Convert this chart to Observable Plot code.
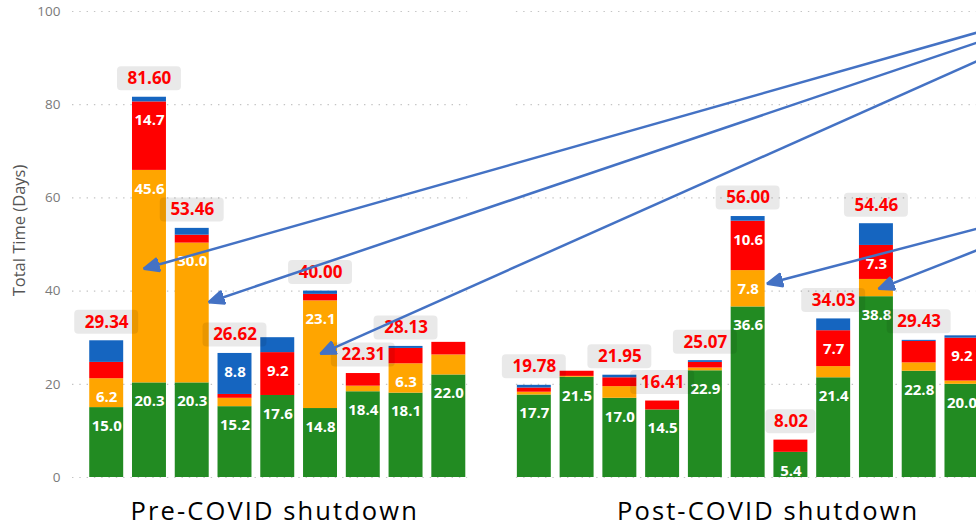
<!DOCTYPE html>
<html>
<head>
<meta charset="utf-8">
<script src="https://cdn.jsdelivr.net/npm/d3@7"></script>
<script src="https://cdn.jsdelivr.net/npm/@observablehq/plot@0.6"></script>
<style>
  html, body { margin: 0; padding: 0; background: #fff; overflow: hidden; }
  #chart { width: 976px; height: 527px; overflow: hidden; }
  #chart svg { max-width: none; }
</style>
</head>
<body>
<div id="chart"></div>
<script>
// ---------- data ----------
const periods = ["Pre-COVID shutdown", "Post-COVID shutdown"];
// period index of each bar (0 = pre, 1 = post)
const barPeriod = [0, 0, 0, 0, 0, 0, 0, 0, 0, 1, 1, 1, 1, 1, 1, 1, 1, 1, 1, 1];
const segmentNames = ["Segment 1", "Segment 2", "Segment 3", "Segment 4"];
const segGreen  = [15.0, 20.3, 20.3, 15.2, 17.6, 14.8, 18.4, 18.1, 22.0, 17.7, 21.5, 17.0, 14.5, 22.9, 36.6, 5.4, 21.4, 38.8, 22.8, 20.0];
const segOrange = [6.2, 45.6, 30.0, 1.8, 0, 23.1, 1.2, 6.3, 4.3, 0.6, 0.2, 2.5, 0, 0.6, 7.8, 0, 2.4, 3.7, 1.8, 0.7];
const segRed    = [3.5, 14.7, 1.7, 0.82, 9.2, 1.4, 2.71, 3.3, 2.7, 0.9, 1.1, 1.9, 1.91, 1.2, 10.6, 2.62, 7.7, 7.3, 4.6, 9.2];
const segBlue   = [4.64, 1.0, 1.46, 8.8, 3.2, 0.7, 0, 0.43, 0, 0.58, 0, 0.55, 0, 0.37, 1.0, 0, 2.53, 4.66, 0.23, 0.5];
// total labels shown above bars (null = no label)
const totalLabels = [29.34, 81.60, 53.46, 26.62, null, 40.00, 22.31, 28.13, null,
                     19.78, null, 21.95, 16.41, 25.07, 56.00, 8.02, 34.03, 54.46, 29.43, null];
const yTicks = [0, 20, 40, 60, 80, 100];
// callout arrows (x in bar-slot units, y in days)
const arrowFromX = [21.5, 21.5, 21.5, 21.5, 21.5];
const arrowFromY = [97.15, 95.33, 91.97, 54.96, 51.08];
const arrowToX   = [1.367, 2.887, 5.498, 15.943, 18.552];
const arrowToY   = [44.79, 37.62, 26.55, 41.57, 40.49];

// ---------- derived tables ----------
const segColors = ["#228b22", "#ffa500", "#ff0000", "#1565c0"];
const segValues = [segGreen, segOrange, segRed, segBlue];
const slotOf = (i) => i + barPeriod[i]; // one empty slot between the two periods

const rows = [];
barPeriod.forEach((p, i) => {
  let acc = 0;
  segValues.forEach((vals, k) => {
    const v = vals[i];
    if (v > 0) rows.push({slot: slotOf(i), seg: segmentNames[k], v, y1: acc, y2: acc + v});
    acc += v;
  });
});
const totals = totalLabels
  .map((t, i) => ({slot: slotOf(i), total: t}))
  .filter((d) => d.total != null)
  .map((d) => ({...d, label: d.total.toFixed(2)}));
const arrows = arrowToX.map((x, i) => ({x1: arrowFromX[i], y1: arrowFromY[i], x2: x, y2: arrowToY[i]}));
const panels = periods.map((name, p) => {
  const slots = barPeriod.map((q, i) => (q === p ? slotOf(i) : null)).filter((s) => s != null);
  return {name, first: d3.min(slots), last: d3.max(slots), center: (d3.min(slots) + d3.max(slots) + 1) / 2};
});

function headMarker(color) {
  const ns = "http://www.w3.org/2000/svg";
  const m = document.createElementNS(ns, "marker");
  m.setAttribute("viewBox", "-16 -8 17 16");
  m.setAttribute("markerWidth", 17);
  m.setAttribute("markerHeight", 16);
  m.setAttribute("refX", 0);
  m.setAttribute("refY", 0);
  m.setAttribute("orient", "auto");
  m.setAttribute("markerUnits", "userSpaceOnUse");
  const path = document.createElementNS(ns, "path");
  path.setAttribute("d", "M0,0L-15,-6.5L-15,6.5Z");
  path.setAttribute("fill", color);
  m.appendChild(path);
  return m;
}

const gridStyle = {stroke: "#c4c4c4", strokeWidth: 1.2, strokeDasharray: "1.4,5.9"};

const chart = Plot.plot({
  width: 976,
  height: 527,
  marginLeft: 72,
  marginRight: 0,
  marginTop: 11,
  marginBottom: 50,
  style: {fontFamily: "'Open Sans', sans-serif", background: "#fff"},
  x: {domain: [-0.3, 20.84], axis: null},
  y: {domain: [0, 100], axis: null},
  color: {domain: segmentNames, range: segColors},
  marks: [
    Plot.ruleY(yTicks, {x1: panels[0].first - 0.3, x2: panels[0].last + 0.94, ...gridStyle}),
    Plot.ruleY(yTicks, {x1: panels[1].first + 0.08, x2: panels[1].last + 2, ...gridStyle}),
    Plot.axisY({ticks: yTicks, tickSize: 0, tickPadding: 12, label: null, fontSize: 13.5, color: "#7a7a7a"}),
    Plot.text(["Total Time (Days)"], {frameAnchor: "left", textAnchor: "middle", rotate: -90, dx: -53, dy: -14, fontSize: 16.5, fill: "#555"}),
    Plot.rect(rows, {x1: "slot", x2: (d) => d.slot + 1, y1: "y1", y2: "y2", fill: "seg", insetLeft: 4.4, insetRight: 4.4}),
    Plot.text(rows.filter((d) => d.v >= 5), {
      x: (d) => d.slot + 0.5, y: "y2", dy: 18.5, text: (d) => d.v.toFixed(1),
      fill: "white", fontWeight: "bold", fontSize: 15
    }),
    Plot.rect(totals.filter((d) => d.label.length >= 5), {
      x1: "slot", x2: (d) => d.slot + 1, y1: "total", y2: "total",
      insetTop: -30.5, insetBottom: 6.5, insetLeft: -10.6, insetRight: -10.6, rx: 4,
      fill: "black", fillOpacity: 0.085
    }),
    Plot.rect(totals.filter((d) => d.label.length < 5), {
      x1: "slot", x2: (d) => d.slot + 1, y1: "total", y2: "total",
      insetTop: -30.5, insetBottom: 6.5, insetLeft: -3.6, insetRight: -3.6, rx: 4,
      fill: "black", fillOpacity: 0.085
    }),
    Plot.text(totals, {
      x: (d) => d.slot + 0.5, y: "total", dy: -18.5, text: "label",
      fill: "#ff0000", fontWeight: "bold", fontSize: 17
    }),
    Plot.text([panels[0]], {x: "center", y: 0, dy: 34, dx: -3, text: "name", fontSize: 25.5, fill: "#000"}),
    Plot.text([panels[1]], {x: "center", y: 0, dy: 34, dx: 20, text: "name", fontSize: 25.5, fill: "#000"}),
    Plot.link(arrows, {x1: "x1", y1: "y1", x2: "x2", y2: "y2", stroke: "#4472c4", strokeWidth: 2.5, markerEnd: headMarker})
  ]
});

d3.select(chart).selectAll("text")
  .filter(function () { return /shutdown/.test(this.textContent); })
  .style("letter-spacing", "2.1px");

document.getElementById("chart").appendChild(chart);
</script>
</body>
</html>
